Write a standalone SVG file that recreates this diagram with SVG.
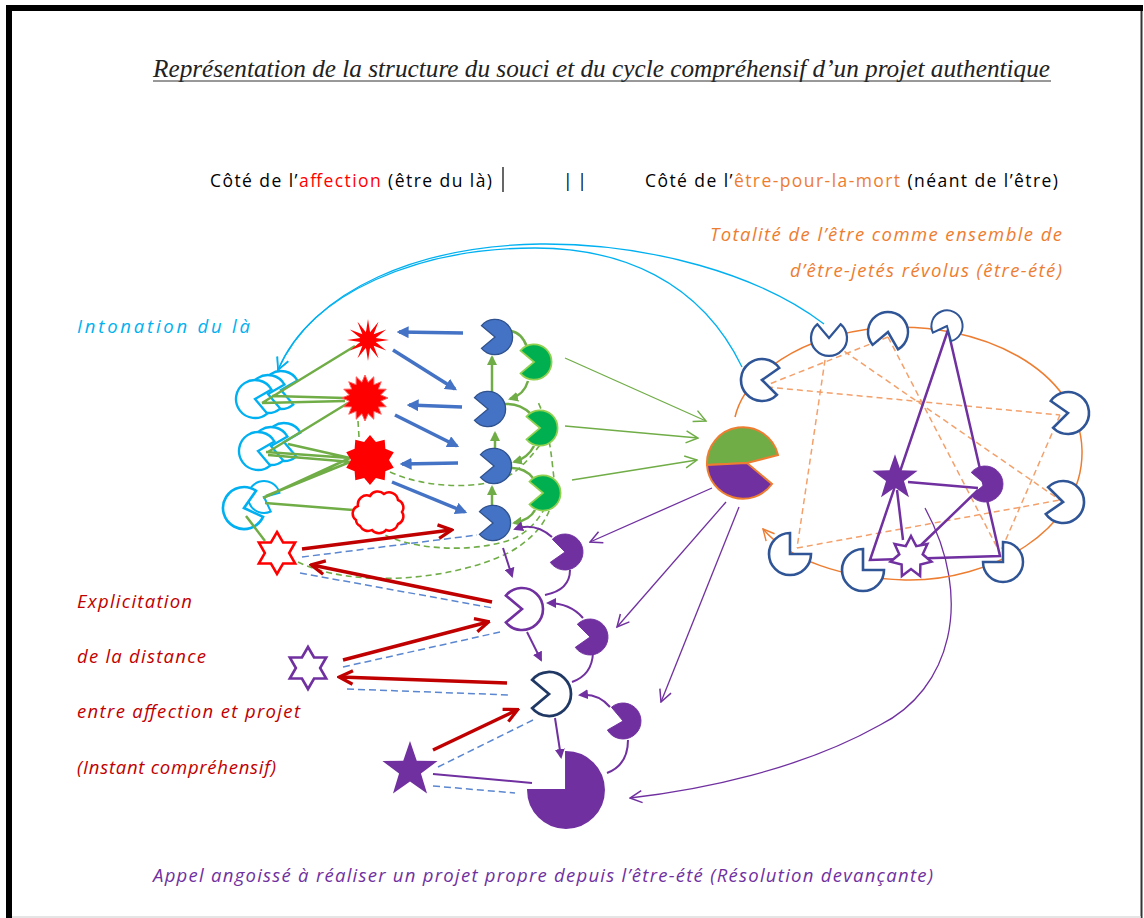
<svg xmlns="http://www.w3.org/2000/svg" xmlns:xlink="http://www.w3.org/1999/xlink" width="1144" height="918" viewBox="0 0 1144 918">
<style>
.cy{fill:#fff;stroke:#00b0f0;stroke-width:2.5}
.bl{fill:#4472c4;stroke:#2f528f;stroke-width:1.5}
.gr{fill:#00b050;stroke:#92d050;stroke-width:2}
.pu{fill:#7030a0;stroke:#7030a0;stroke-width:1}
.puo{fill:#fff;stroke:#7030a0;stroke-width:2.5}
.nv{fill:#fff;stroke:#2f5597;stroke-width:2.5}
.nvd{fill:#fff;stroke:#203864;stroke-width:2.5}
.t{font-family:'Open Sans','Liberation Sans',sans-serif;font-size:17.5px}
.ti{font-family:'Open Sans','Liberation Sans',sans-serif;font-size:18.5px;font-style:italic}
.gl{stroke:#70ad47;stroke-width:2.5;fill:none}
.ba{stroke:#4472c4;stroke-width:3.5;fill:none;marker-end:url(#ab)}
.ga{stroke:#70ad47;stroke-width:2.5;fill:none}
.gd{stroke:#70ad47;stroke-width:1.6;fill:none;stroke-dasharray:6 4}
.ra{stroke:#c00000;stroke-width:3.5;fill:none;marker-end:url(#ar)}
.bd{stroke:#5b87d0;stroke-width:1.5;fill:none;stroke-dasharray:7 4}
.pa{stroke:#7030a0;stroke-width:2;fill:none}
.pt{stroke:#7030a0;stroke-width:1.3;fill:none;marker-end:url(#apo)}
.gt{stroke:#70ad47;stroke-width:1.3;fill:none;marker-end:url(#ago)}
.ct{stroke:#00b0f0;stroke-width:1.3;fill:none;marker-end:url(#ac)}
.od{stroke:#f4a06a;stroke-width:1.5;fill:none;stroke-dasharray:6 4}
.pl{stroke:#7030a0;stroke-width:2.5;fill:none}
</style>
<defs>
<path id="pac" d="M0,0 L15.32,12.86 A20,20 0 1 1 15.32,-12.86 Z"/>
<path id="qpac" d="M0,0 L20,0 A20,20 0 1 1 0,-20 Z"/>
<polygon id="hex" points="0,-20 5.77,-10 17.32,-10 11.55,0 17.32,10 5.77,10 0,20 -5.77,10 -17.32,10 -11.55,0 -17.32,-10 -5.77,-10"/>
<polygon id="star5" points="0,-29 6.76,-9.30 27.58,-8.96 10.94,3.55 17.05,23.46 0,11.5 -17.05,23.46 -10.94,3.55 -27.58,-8.96 -6.76,-9.30"/>
<marker id="ab" viewBox="0 0 10 10" refX="8" refY="5" markerWidth="12" markerHeight="12" markerUnits="userSpaceOnUse" orient="auto"><path d="M0,0 L10,5 L0,10 Z" fill="#4472c4"/></marker>
<marker id="ag" viewBox="0 0 10 10" refX="8" refY="5" markerWidth="10" markerHeight="10" markerUnits="userSpaceOnUse" orient="auto"><path d="M0,0 L10,5 L0,10 Z" fill="#70ad47"/></marker>
<marker id="ap" viewBox="0 0 10 10" refX="8" refY="5" markerWidth="10" markerHeight="10" markerUnits="userSpaceOnUse" orient="auto"><path d="M0,0 L10,5 L0,10 Z" fill="#7030a0"/></marker>
<marker id="ar" viewBox="0 0 10 10" refX="8.5" refY="5" markerWidth="17" markerHeight="17" markerUnits="userSpaceOnUse" orient="auto"><path d="M1,1 L9,5 L1,9" fill="none" stroke="#c00000" stroke-width="1.9"/></marker>
<marker id="apo" viewBox="0 0 10 10" refX="9" refY="5" markerWidth="15" markerHeight="15" markerUnits="userSpaceOnUse" orient="auto"><path d="M1,1 L9,5 L1,9" fill="none" stroke="#7030a0" stroke-width="1"/></marker>
<marker id="ago" viewBox="0 0 10 10" refX="9" refY="5" markerWidth="15" markerHeight="15" markerUnits="userSpaceOnUse" orient="auto"><path d="M1,1 L9,5 L1,9" fill="none" stroke="#70ad47" stroke-width="1"/></marker>
<marker id="ac" viewBox="0 0 10 10" refX="9" refY="5" markerWidth="15" markerHeight="15" markerUnits="userSpaceOnUse" orient="auto"><path d="M1,1 L9,5 L1,9" fill="none" stroke="#00b0f0" stroke-width="1"/></marker>
<marker id="ao" viewBox="0 0 10 10" refX="9" refY="5" markerWidth="14" markerHeight="14" markerUnits="userSpaceOnUse" orient="auto"><path d="M1,1 L9,5 L1,9" fill="none" stroke="#ed7d31" stroke-width="1"/></marker>
</defs>
<rect x="0" y="0" width="1144" height="918" fill="#fff"/>
<g id="frame">
<rect x="6" y="5" width="1137" height="6" fill="#000"/>
<rect x="6" y="5" width="6" height="913" fill="#000"/>
<line x1="1141.5" y1="11" x2="1141.5" y2="918" stroke="#333" stroke-width="2"/>
<line x1="12" y1="917" x2="1141" y2="917" stroke="#ddd" stroke-width="1.5"/>
</g>
<g id="texts">
<text x="153" y="77" font-family="'Liberation Serif',serif" font-style="italic" font-size="25" textLength="897" lengthAdjust="spacingAndGlyphs" fill="#222">Représentation de la structure du souci et du cycle compréhensif d’un projet authentique</text>
<line x1="153" y1="81" x2="1051" y2="81" stroke="#333" stroke-width="1"/>
<text class="t" x="210" y="187" textLength="282" fill="#000">Côté de l’<tspan fill="#ff0000">affection</tspan> (être du là)</text>
<line x1="503" y1="167" x2="503" y2="192" stroke="#000" stroke-width="1.2"/>
<text class="t" x="563" y="187" fill="#000">| |</text>
<text class="t" x="645" y="187" textLength="413" fill="#000">Côté de l’<tspan fill="#ed7d31">être-pour-la-mort</tspan> (néant de l’être)</text>
<text class="ti" x="710" y="241" textLength="352" fill="#ed7d31">Totalité de l’être comme ensemble de</text>
<text class="ti" x="790" y="277" textLength="272" fill="#ed7d31">d’être-jetés révolus (être-été)</text>
<text class="ti" x="77" y="333" textLength="173" fill="#00b0f0">Intonation du là</text>
<text class="ti" x="77" y="608" textLength="115" fill="#c00000">Explicitation</text>
<text class="ti" x="77" y="663" textLength="129" fill="#c00000">de la distance</text>
<text class="ti" x="77" y="718" textLength="223" fill="#c00000">entre affection et projet</text>
<text class="ti" x="77" y="774" textLength="199" fill="#c00000">(Instant compréhensif)</text>
<text class="ti" x="153" y="882" textLength="780" fill="#7030a0">Appel angoissé à réaliser un projet propre depuis l’être-été (Résolution devançante)</text>
</g>
<g id="intonation-pacs">
<use href="#pac" class="cy" transform="translate(281,390) rotate(10) scale(0.95)"/>
<use href="#pac" class="cy" transform="translate(268,394) rotate(10) scale(0.95)"/>
<use href="#pac" class="cy" transform="translate(255,399) rotate(10) scale(0.95)"/>
<use href="#pac" class="cy" transform="translate(284,442) rotate(10) scale(0.95)"/>
<use href="#pac" class="cy" transform="translate(271,446) rotate(10) scale(0.95)"/>
<use href="#pac" class="cy" transform="translate(258,451) rotate(10) scale(0.95)"/>
<use href="#pac" class="cy" transform="translate(264,497) rotate(25) scale(0.8)"/>
<use href="#pac" class="cy" transform="translate(244,508) rotate(-15) scale(1.05)"/>
</g>
<g id="connectors">
<path class="gl" d="M262,403 L355,346 M262,403 L345,401 M272,396 L345,398 M268,452 L348,403 M266,452 L350,458 M268,455 L352,462 M288,444 L350,458 M263,498 L350,458 M266,496 L350,462 M265,503 L353,510 M246,516 L265,541"/>
<path class="ba" d="M463,333 L399,332"/>
<path class="ba" d="M393,350 L455,389"/>
<path class="ba" d="M462,407 L409,405"/>
<path class="ba" d="M395,415 L457,446"/>
<path class="ba" d="M458,463 L402,464"/>
<path class="ba" d="M392,482 L465,512"/>
<path class="ga" marker-end="url(#ag)" d="M492,393 L492,357"/>
<path class="ga" marker-end="url(#ag)" d="M495,449 L495,433"/>
<path class="ga" marker-end="url(#ag)" d="M492,508 L492,487"/>
<path class="ga" d="M511,331 Q522,333 527,347"/>
<path class="ga" marker-end="url(#ag)" d="M528,381 Q524,395 510,399"/>
<path class="ga" d="M505,404 Q520,403 531,414"/>
<path class="ga" marker-end="url(#ag)" d="M534,446 Q528,458 514,462"/>
<path class="ga" d="M512,468 Q525,468 533,478"/>
<path class="ga" marker-end="url(#ag)" d="M535,510 Q530,520 514,523"/>
<path class="gd" d="M358,421 L359,437"/>
<path class="gd" d="M390,472 C430,490 480,488 505,478 C520,470 530,458 540,445"/>
<path class="gd" d="M377,530 C400,548 470,556 515,538 C540,525 552,500 552,478"/>
<path class="gd" d="M298,562 C350,588 450,582 510,552 C545,532 558,505 553,470 C550,440 545,415 537,400"/>
<path class="bd" d="M302,557 L477,535 M300,573 L493,608 M343,667 L500,632 M347,689 L510,695 M438,767 L533,720 M433,786 L515,793"/>
<path class="ra" d="M302,549 L451,530"/>
<path class="ra" d="M492,602 L312,565"/>
<path class="ra" d="M343,660 L488,622"/>
<path class="ra" d="M507,683 L340,677"/>
<path class="ra" d="M433,750 L517,710"/>
<path class="pa" d="M433,774 L532,783"/>
<path class="pa" marker-end="url(#ap)" d="M503,548 L512,576"/>
<path class="pa" marker-end="url(#ap)" d="M527,632 L541,660"/>
<path class="pa" marker-end="url(#ap)" d="M555,718 L561,757"/>
<path class="pa" marker-end="url(#ap)" d="M552,537 Q535,522 515,529"/>
<path class="pa" d="M570,570 Q570,590 545,595"/>
<path class="pa" marker-end="url(#ap)" d="M583,618 Q570,603 548,603"/>
<path class="pa" d="M593,653 Q592,675 572,682"/>
<path class="pa" marker-end="url(#ap)" d="M610,707 Q598,693 580,695"/>
<path class="pa" d="M628,740 Q628,765 607,773"/>
<path class="gt" d="M565,358 L706,421"/>
<path class="gt" d="M565,426 L698,438"/>
<path class="gt" d="M572,480 L697,460"/>
<path class="pt" d="M712,488 L590,542"/>
<path class="pt" d="M726,502 L617,627"/>
<path class="pt" d="M739,507 L661,702"/>
<path class="pt" d="M925,508 C975,600 950,690 880,725 C800,770 700,790 630,798"/>
<path class="ct" d="M742,367 C700,280 620,248 535,248 C420,248 310,292 278,370"/>
<path class="ct" d="M824,324 C760,275 650,243 540,244 C420,246 315,288 278,370"/>
<path d="M735,417 C745,375 800,335 880,328 C980,320 1080,370 1082,450 C1084,530 990,582 905,580 C840,578 790,560 763,529" fill="none" stroke="#ed7d31" stroke-width="1.5" marker-end="url(#ao)"/>
<path class="od" d="M767,387 L1060,415 M828,340 L797,548 M888,337 L767,385 M828,340 L1060,500 M888,337 L1000,553 M1060,415 L1000,553 M797,548 L1060,500"/>
<path class="pl" d="M948,330 L870,560 L1000,556 Z M908,482 L978,488 M978,490 L920,546 M897,490 L903,540"/>
</g>
<g id="affection-shapes">
<polygon fill="#ff0000" transform="translate(368,340)" points="0,-21 2.07,-7.73 10.5,-18.19 5.66,-5.66 18.19,-10.5 7.73,-2.07 21,0 7.73,2.07 18.19,10.5 5.66,5.66 10.5,18.19 2.07,7.73 0,21 -2.07,7.73 -10.5,18.19 -5.66,5.66 -18.19,10.5 -7.73,2.07 -21,0 -7.73,-2.07 -18.19,-10.5 -5.66,-5.66 -10.5,-18.19 -2.07,-7.73"/>
<polygon fill="#ff0000" stroke="#ff6060" stroke-width="1" transform="translate(365,398)" points="0,-23 3.12,-15.70 8.81,-21.25 8.90,-13.30 16.26,-16.26 13.30,-8.90 21.25,-8.81 15.70,-3.12 23,0 15.70,3.12 21.25,8.81 13.30,8.90 16.26,16.26 8.90,13.30 8.81,21.25 3.12,15.70 0,23 -3.12,15.70 -8.81,21.25 -8.90,13.30 -16.26,16.26 -13.30,8.90 -21.25,8.81 -15.70,3.12 -23,0 -15.70,-3.12 -21.25,-8.81 -13.30,-8.90 -16.26,-16.26 -8.90,-13.30 -8.81,-21.25 -3.12,-15.70"/>
<polygon fill="#ff0000" transform="translate(370,460)" points="0,-25 5.87,-18.07 14.69,-20.23 15.37,-11.17 23.78,-7.73 19,0 23.78,7.73 15.37,11.17 14.69,20.23 5.87,18.07 0,25 -5.87,18.07 -14.69,20.23 -15.37,11.17 -23.78,7.73 -19,0 -23.78,-7.73 -15.37,-11.17 -14.69,-20.23 -5.87,-18.07"/>
<path fill="#fff" stroke="#ff0000" stroke-width="2.5" d="M356,520 a8,8 0 0 1 2,-14 a9,9 0 0 1 12,-10 a9,9 0 0 1 14,-2 a9,9 0 0 1 14,6 a8,8 0 0 1 4,12 a8,8 0 0 1 -4,12 a9,9 0 0 1 -12,6 a9,9 0 0 1 -14,0 a9,9 0 0 1 -12,-4 a7,7 0 0 1 -4,-6 Z"/>
<use href="#hex" fill="#fff" stroke="#ff0000" stroke-width="2.4" transform="translate(277,553) scale(1.05)"/>
<use href="#hex" class="puo" transform="translate(308,668) scale(1.05)"/>
<use href="#star5" fill="#7030a0" transform="translate(410,770)"/>
</g>
<g id="blue-pacs">
<use href="#pac" class="bl" transform="translate(495,337) rotate(180) scale(0.88)"/>
<use href="#pac" class="bl" transform="translate(488,409) rotate(180) scale(0.88)"/>
<use href="#pac" class="bl" transform="translate(494,466) rotate(180) scale(0.88)"/>
<use href="#pac" class="bl" transform="translate(493,523) rotate(180) scale(0.88)"/>
</g>
<g id="green-pacs">
<use href="#pac" class="gr" transform="translate(534,362) rotate(180) scale(0.88)"/>
<use href="#pac" class="gr" transform="translate(540,428) rotate(180) scale(0.88)"/>
<use href="#pac" class="gr" transform="translate(543,493) rotate(180) scale(0.88)"/>
</g>
<g id="projet-pacs">
<use href="#pac" class="pu" transform="translate(565,552) rotate(185) scale(0.9)"/>
<use href="#pac" class="pu" transform="translate(590,637) rotate(185) scale(0.9)"/>
<use href="#pac" class="pu" transform="translate(623,721) rotate(190) scale(0.9)"/>
<use href="#pac" class="puo" transform="translate(522,609) rotate(180) scale(1.05)"/>
<use href="#pac" class="nvd" transform="translate(549,694) rotate(180) scale(1.1)"/>
<use href="#qpac" class="pu" transform="translate(566,790) rotate(-90) scale(1.9)"/>
</g>
<g id="split-pie">
<path d="M747,463 L707,465 A36,36 0 0 1 778,455 Z" fill="#70ad47" stroke="#ed7d31" stroke-width="2"/>
<path d="M747,463 L707,465 A36,36 0 0 0 772,484 Z" fill="#7030a0" stroke="#ed7d31" stroke-width="2"/>
</g>
<g id="totalite-pacs">
<use href="#pac" class="nv" transform="translate(762,380) rotate(5) scale(1.05)"/>
<use href="#pac" class="nv" transform="translate(829,338) rotate(-90) scale(0.9)"/>
<use href="#pac" class="nv" transform="translate(888,332) rotate(100)"/>
<use href="#pac" class="nv" transform="translate(947,326) rotate(115) scale(0.78)"/>
<use href="#pac" class="nv" transform="translate(1068,413) rotate(175) scale(1.05)"/>
<use href="#pac" class="nv" transform="translate(1063,502) rotate(185) scale(1.05)"/>
<use href="#qpac" class="nv" transform="translate(1003,562) rotate(-90)"/>
<use href="#qpac" class="nv" transform="translate(863,570) scale(1.05)"/>
<use href="#qpac" class="nv" transform="translate(790,554) scale(1.05)"/>
</g>
<g id="resolution">
<use href="#star5" fill="#7030a0" transform="translate(895,478) scale(0.82)"/>
<use href="#pac" class="pu" transform="translate(985,484) rotate(180) scale(0.9)"/>
<polygon fill="#fff" stroke="#7030a0" stroke-width="2.5" transform="translate(911,557)" points="0,-21 5.21,-10.81 16.42,-13.08 11.70,-2.68 20.48,4.68 9.38,7.48 9.11,18.92 0,12 -9.11,18.92 -9.38,7.48 -20.48,4.68 -11.70,-2.68 -16.42,-13.08 -5.21,-10.81"/>
</g>
</svg>
